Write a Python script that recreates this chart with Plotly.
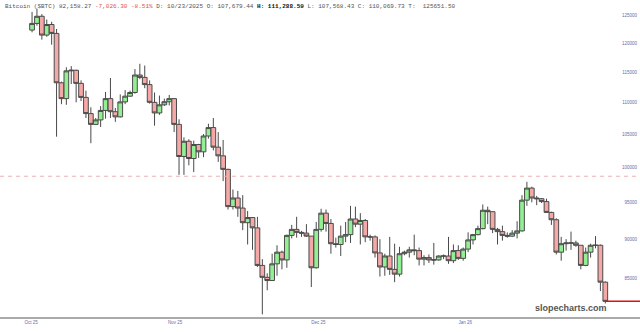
import plotly.graph_objects as go
import pandas as pd
import math

dates = pd.date_range("2025-10-05", "2026-01-30", freq="D").strftime("%Y-%m-%d").tolist()

opens = [122.3,123.5,124.8,121.4,123.3,121.7,113.2,110.6,115.2,115.3,113.1,110.8,108.2,106.5,107.2,108.7,110.6,108.5,107.68,110.07,111.0,111.6,114.5,114.1,112.9,110.0,108.3,
         109.6,110.1,110.6,106.5,101.6,103.9,101.3,103.4,102.3,104.7,106.0,103.0,101.7,99.7,94.4,95.6,94.2,92.2,92.9,91.5,86.6,85.1,84.7,86.8,88.3,87.3,90.5,91.3,90.9,90.8,
         90.4,86.3,91.3,93.5,92.1,89.4,89.3,90.4,90.6,92.7,92.0,92.5,90.3,90.3,88.2,86.4,87.8,86.1,85.5,88.1,88.3,88.6,88.5,87.4,87.6,87.3,87.3,87.8,87.8,87.2,88.5,
         87.5,88.7,89.9,90.6,91.4,93.9,93.7,91.3,91.0,90.5,90.4,90.8,91.1,95.3,97.0,95.6,95.5,95.1,93.6,92.6,88.3,89.4,89.5,89.5,89.2,86.6,88.3,89.2,89.2,84.5]
highs = [125.6,126.2,125.2,124.2,123.8,122.5,113.4,115.8,116.0,115.4,113.6,111.9,109.2,107.5,109.4,111.7,114.0,109.1,111.29,112.0,111.9,115.5,116.4,116.1,113.6,111.6,111.1,
         110.6,111.2,110.7,107.3,104.5,104.2,104.0,103.5,105.0,106.6,107.5,105.3,104.1,99.8,96.8,96.6,96.0,93.8,92.9,93.0,87.4,85.6,88.1,89.2,88.5,90.6,91.9,93.0,91.1,92.0,
         90.4,92.3,94.1,94.0,92.7,90.2,91.8,92.3,94.5,94.4,93.5,92.7,90.6,90.5,90.0,88.1,90.3,89.4,89.0,88.5,89.0,90.6,88.9,87.9,88.0,89.5,87.9,88.0,90.3,89.3,89.2,
         88.9,90.9,90.7,91.8,94.7,94.4,93.7,91.5,91.8,90.9,91.2,92.4,96.0,97.9,97.2,95.9,95.6,95.5,93.7,92.8,90.3,90.0,91.0,89.8,89.2,88.9,89.4,90.4,89.3,84.6]
lows = [121.9,123.1,120.6,121.1,119.7,104.6,109.7,109.6,113.0,110.0,110.2,107.5,103.6,106.4,106.1,107.4,107.5,106.9,107.57,109.7,110.9,111.4,113.8,112.3,109.8,106.3,108.0,
        109.4,109.5,105.3,98.9,98.9,100.3,99.3,101.4,101.5,104.3,102.5,100.8,98.0,94.0,94.0,93.0,91.2,89.3,88.6,86.4,80.6,83.5,84.7,85.3,86.1,86.3,90.1,90.2,90.3,90.3,
        83.9,86.2,91.0,91.0,88.1,88.9,87.8,89.6,89.5,91.6,89.3,89.6,89.8,87.6,85.2,85.3,85.4,84.5,85.2,87.9,87.6,87.9,86.6,86.6,86.9,86.7,87.2,87.4,86.8,86.9,87.3,
        87.2,88.3,89.3,90.5,91.3,92.0,90.8,89.3,89.8,90.2,90.3,90.1,91.0,94.5,95.0,94.6,94.9,93.6,91.9,88.0,87.2,88.5,88.6,89.0,86.1,86.5,87.6,88.8,83.4,81.9]
closes = [123.5,124.8,121.4,123.3,121.7,113.2,110.6,115.2,115.3,113.1,110.8,108.2,106.5,107.2,108.7,110.6,108.5,107.68,110.07,111.0,111.6,114.5,114.1,112.9,110.0,108.3,109.6,
          110.1,110.6,106.5,101.6,103.9,101.3,103.4,102.3,104.7,106.0,103.0,101.7,99.7,94.4,95.6,94.2,92.2,92.9,91.5,86.6,85.1,84.7,86.8,88.3,87.3,90.5,91.3,90.9,90.8,90.4,
          86.3,91.3,93.5,92.1,89.4,89.3,90.4,90.6,92.7,92.0,92.5,90.3,90.3,88.2,86.4,87.8,86.1,85.5,88.1,88.3,88.6,88.5,87.4,87.6,87.3,87.3,87.8,87.8,87.2,88.5,87.5,
          88.7,89.9,90.6,91.4,93.9,93.7,91.3,91.0,90.5,90.4,90.8,91.1,95.3,97.0,95.6,95.5,95.1,93.6,92.6,88.3,89.4,89.5,89.5,89.2,86.6,88.3,89.2,89.2,84.5,82.15827]

opens = [v * 1000 for v in opens]
highs = [v * 1000 for v in highs]
lows = [v * 1000 for v in lows]
closes = [v * 1000 for v in closes]

y_ticks = [85000, 90000, 95000, 100000, 105000, 110000, 115000, 120000, 125000]
x_tickvals = ["2025-10-04 19:00", "2025-11-03 05:00", "2025-12-02 10:00", "2026-01-01 10:00"]
x_ticktext = ["Oct 25", "Nov 25", "Dec 25", "Jan 26"]
ref_level = 98700

header = ("Bitcoin ($BTC) 82,158.27 <span style='color:#e0504a'>-7,026.30 -8.51%</span> "
          "D: 10/23/2025 O: 107,679.44 <b><span style='color:#111'>H: 111,288.59</span></b> "
          "L: 107,568.43 C: 110,069.73 T:  125651.50")

x_range = ["2025-09-28 11:00", "2026-02-06 02:00"]
y_range = [math.log10(80290), math.log10(127814)]

fig = go.Figure()
fig.add_trace(go.Candlestick(
    x=dates, open=opens, high=highs, low=lows, close=closes,
    increasing=dict(fillcolor="#93ef93", line=dict(color="#4a4a4a", width=1)),
    decreasing=dict(fillcolor="#f4a8a8", line=dict(color="#4a4a4a", width=1)),
    whiskerwidth=0, showlegend=False, hoverinfo="skip",
))

fig.add_shape(type="line", xref="paper", yref="y", x0=0, x1=1, y0=ref_level, y1=ref_level,
              line=dict(color="#f0b0b0", width=1, dash="4px,4px"))
fig.add_shape(type="line", xref="x", yref="y", x0=dates[-1], x1=x_range[1],
              y0=closes[-1], y1=closes[-1], line=dict(color="#dd1111", width=1.5))

fig.add_annotation(text=header, xref="paper", yref="paper", x=0.004, y=1, xanchor="left",
                   yanchor="top", yshift=-1, showarrow=False,
                   font=dict(family="Liberation Mono", size=6, color="#555"))
fig.add_annotation(text="<b>slopecharts.com</b>", xref="paper", yref="paper", x=0.952, y=0.0,
                   xanchor="right", yanchor="bottom", yshift=2, showarrow=False,
                   font=dict(family="Liberation Sans", size=9, color="#555"))

fig.update_layout(
    width=640, height=332, margin=dict(l=0, r=0, t=0, b=15),
    paper_bgcolor="white", plot_bgcolor="white", boxgap=0.04, boxgroupgap=0,
    xaxis=dict(type="date", range=x_range, rangeslider=dict(visible=False), showgrid=False,
               zeroline=False, showline=True, linecolor="#aaaaaa", linewidth=1.5,
               tickvals=x_tickvals, ticktext=x_ticktext, ticks="",
               tickfont=dict(family="Liberation Sans", size=4.5, color="#6a6aa8")),
    yaxis=dict(type="log", range=y_range, side="right", ticklabelposition="inside",
               tickvals=y_ticks, ticktext=[str(v) for v in y_ticks], showgrid=False,
               zeroline=False, showline=False, ticks="",
               tickfont=dict(family="Liberation Sans", size=4.5, color="#6a6aa8")),
)

fig.write_html("out.html")
